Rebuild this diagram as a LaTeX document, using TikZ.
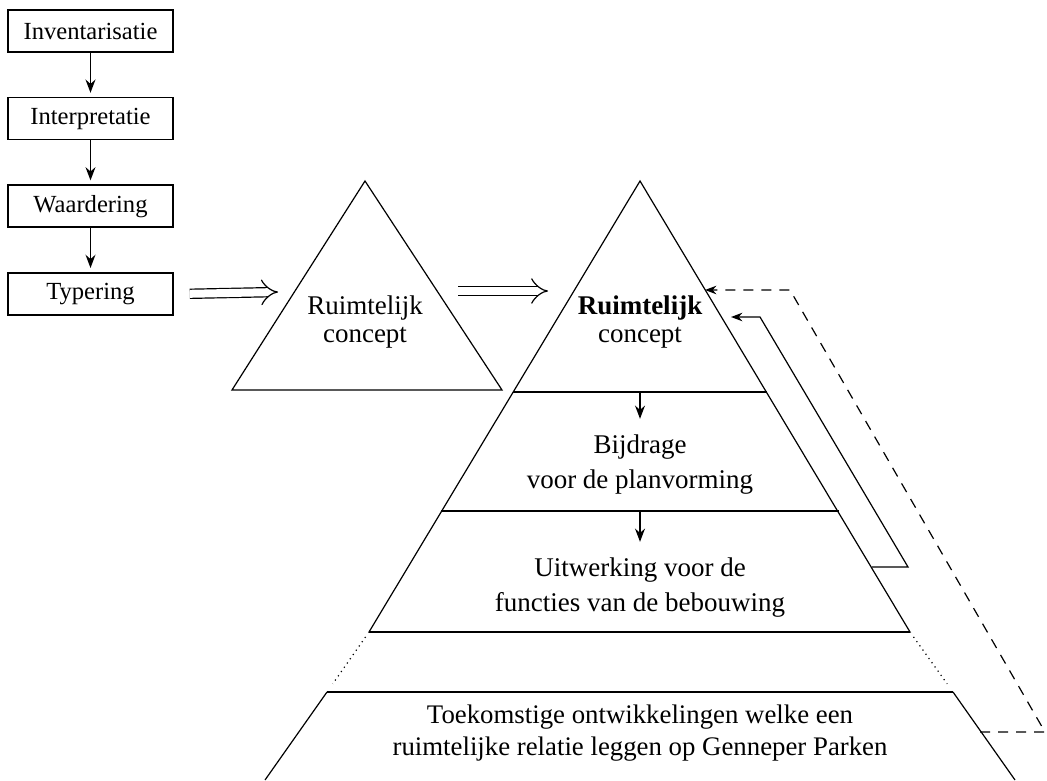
\documentclass[tikz,border=0pt]{standalone}
\usepackage{fontspec}
\setmainfont{Liberation Serif}
\usetikzlibrary{positioning,arrows.meta}

\begin{document}
\begin{tikzpicture}[
    x=0.5pt, y=-0.5pt,
    >=Stealth,
    stage/.style={draw, thick, minimum width=82.5pt, minimum height=21pt,
        inner sep=0pt, font=\fontsize{12.3}{14}\selectfont},
    flow/.style={thick, ->, shorten >=2pt},
    bigarrow/.style={double, double distance=4pt, semithick, -{Implies}},
    edge/.style={semithick},
    level/.style={thick},
    label/.style={align=center, inner sep=0pt, font=\fontsize{13.5}{17.5}\selectfont},
    toplabel/.style={align=center, inner sep=0pt, font=\fontsize{13.5}{14}\selectfont},
    back/.style={semithick, ->},
    backdash/.style={semithick, ->, dash pattern=on 5pt off 4pt}
]

\useasboundingbox (0,0) rectangle (1047,780);

% ---- Stages on the left ----
\node[stage] (inv) at (90.5,31) {Inventarisatie};
\node[stage, below=22pt of inv] (int) {Interpretatie};
\node[stage, below=22pt of int] (waa) {Waardering};
\node[stage, below=22pt of waa] (typ) {Typering};

\draw[flow] (inv) -- (int);
\draw[flow] (int) -- (waa);
\draw[flow] (waa) -- (typ);

% ---- First triangle ----
\draw[edge] (365,181) -- (502,390) -- (232,390) -- cycle;
\node[toplabel] (rc1) at (365,322) {Ruimtelijk\\concept};

% ---- Pyramid ----
\draw[edge] (640,181) -- (910,632) -- (369,632) -- cycle;
\draw[level] (513,392) -- (767,392);
\draw[level] (441,511) -- (839,511);
\draw[level] (369,632) -- (910,632);

\node[toplabel] (rc2) at (640,322) {\textbf{Ruimtelijk}\\concept};
\node[label] (bij) at (640,465) {Bijdrage\\voor de planvorming};
\node[label] (uit) at (640,588) {Uitwerking voor de\\functies van de bebouwing};

\coordinate (lvA) at (640,392);
\coordinate (lvB) at (640,511);
\draw[flow] (lvA) -- ([yshift=6pt]bij.north);
\draw[flow] (lvB) -- ([yshift=6pt]uit.north);

% dotted gap
\draw[edge, dotted, shorten <=3pt, shorten >=5pt] (369,632) -- (327,692);
\draw[edge, dotted, shorten <=3pt, shorten >=5pt] (910,632) -- (953,692);

% ---- Bottom part ----
\draw[edge] (265,780) -- (327,692);
\draw[level] (327,692) -- (953,692);
\draw[edge] (953,692) -- (1015,780);
\node[label, font=\fontsize{13.4}{16}\selectfont] (toe) at (640,733)
{Toekomstige ontwikkelingen welke een\\ruimtelijke relatie leggen op Genneper Parken};

% ---- Big arrows ----
\coordinate (t1in) at (278,292);
\coordinate (t1out) at (458,291);
\coordinate (t2in) at (548,291);
\draw[bigarrow] ([xshift=8pt]typ.east) -- (t1in);
\draw[bigarrow] (t1out) -- (t2in);

% ---- Feedback ----
\coordinate (fbS) at (872,567);
\coordinate (fbSa) at (908,567);
\coordinate (fbSb) at (760,317);
\coordinate (fbSe) at (731,317);
\draw[back] (fbS) -- (fbSa) -- (fbSb) -- (fbSe);

\coordinate (fbD) at (980,732);
\coordinate (fbDa) at (1045,732);
\coordinate (fbDb) at (790,290);
\coordinate (fbDe) at (705,290);
\draw[backdash] (fbD) -- (fbDa) -- (fbDb) -- (fbDe);

\end{tikzpicture}
\end{document}
